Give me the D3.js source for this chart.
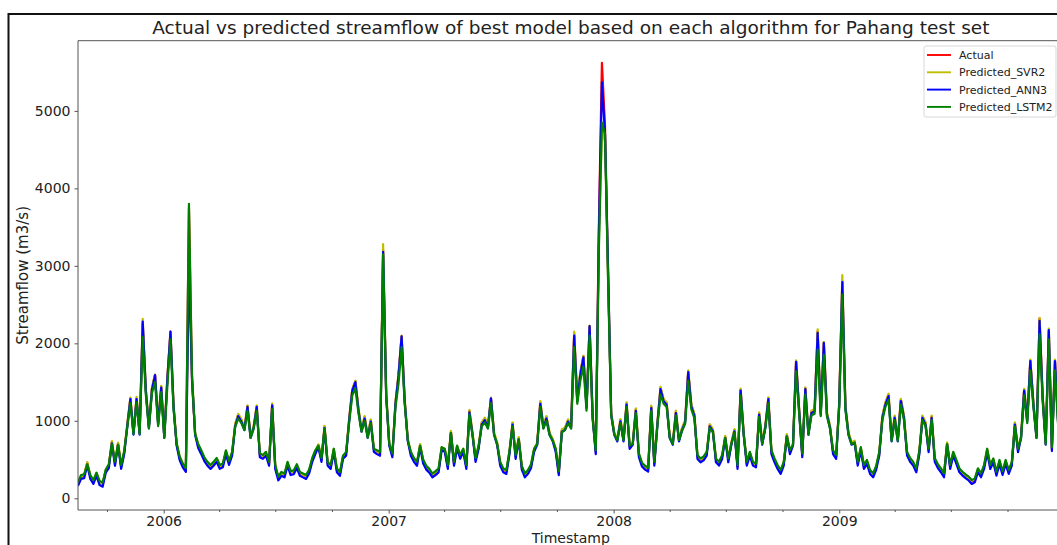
<!DOCTYPE html>
<html>
<head>
<meta charset="utf-8">
<script src="https://cdn.jsdelivr.net/npm/d3@7/dist/d3.min.js"></script>
<style>
  html, body { margin: 0; padding: 0; background: #fff; }
  svg { display: block; font-family: "DejaVu Sans", sans-serif; }
</style>
</head>
<body>
<svg id="chart" width="1057" height="545"></svg>
<script>
// ---- data (5-day samples, starting 2005-08-15) ----
const startDay = "2005-08-15";
const endDay = "2009-12-31";
const stepDays = 5;

const actual = [
190,280,290,460,280,215,320,200,180,360,
420,730,450,710,410,600,950,1290,840,1290,
840,2250,1400,925,1420,1590,970,1440,800,1550,
2150,1200,700,520,430,370,3750,1500,840,680,
600,510,450,410,450,500,410,430,600,460,
580,950,1080,1010,900,1190,800,925,1190,560,
540,580,450,1210,410,260,320,300,450,330,
340,420,320,300,280,350,500,600,690,500,
925,450,410,630,365,320,540,580,1030,1400,
1510,1150,880,1050,800,1010,630,600,580,3200,
1350,700,560,1230,1590,2090,1270,760,580,500,
450,690,480,400,360,300,330,365,650,630,
410,860,450,670,540,630,410,1130,840,500,
670,970,1030,925,1290,840,710,450,365,345,
600,970,540,780,400,300,345,420,630,710,
1240,925,1050,840,760,630,330,880,900,1010,
925,2130,1270,1617,1833,1185,2221,1056,600,3500,
5620,4800,2900,1100,840,754,1013,754,1229,668,
711,1150,560,440,400,375,1185,452,970,1423,
1272,1229,797,711,1121,754,900,1000,1638,1207,
1080,538,495,520,581,949,884,495,452,538,
797,495,711,884,409,1401,840,452,581,452,
430,1099,711,927,1294,600,495,409,345,452,
818,600,700,1768,1142,560,1423,840,1121,1142,
2156,1100,2006,1100,928,600,540,1230,2800,1187,
841,712,733,452,647,409,474,345,302,400,
582,1057,1230,1338,755,1057,755,1273,1057,582,
500,452,366,600,1057,971,625,1057,500,420,
366,302,712,409,582,474,366,323,290,260,
215,237,366,302,409,625,409,496,323,474,
330,474,345,452,971,625,798,1402,1014,1780,
1230,800,2320,1316,712,2170,640,1780,1000,800
];

const predSVR2 = [
195,285,295,465,285,220,325,205,185,365,
425,740,455,720,415,605,960,1300,850,1310,
850,2315,1410,935,1430,1600,980,1450,810,1560,
2140,1210,705,525,435,375,3060,1600,850,685,
605,515,455,415,455,505,415,435,605,465,
585,960,1090,1020,910,1200,810,935,1200,565,
545,585,455,1225,415,265,325,305,455,335,
345,425,325,305,285,355,505,605,695,505,
935,455,415,635,370,325,545,585,1040,1410,
1520,1160,890,1060,810,1020,635,605,585,3280,
1360,705,565,1240,1600,2100,1280,770,585,505,
455,700,485,405,365,305,335,370,655,635,
415,870,455,675,545,635,415,1140,850,505,
675,980,1040,935,1300,850,720,455,370,350,
605,980,545,790,405,305,350,425,635,720,
1255,935,1060,850,770,635,335,890,910,1020,
935,2150,1280,1630,1840,1195,2230,1066,605,3300,
4750,4600,2850,1110,850,764,1023,764,1239,673,
721,1160,565,445,405,380,1195,457,980,1440,
1282,1239,807,721,1131,764,910,1010,1650,1217,
1090,543,500,525,586,959,894,500,457,543,
807,500,721,894,414,1415,850,457,586,457,
435,1109,721,937,1304,605,500,414,350,457,
828,605,710,1780,1152,565,1433,850,1131,1152,
2180,1110,2020,1110,938,605,545,1240,2880,1197,
851,722,743,457,652,414,479,350,307,405,
587,1067,1240,1350,765,1067,765,1283,1067,587,
505,457,371,605,1067,981,630,1067,505,425,
371,307,722,414,587,479,371,328,295,265,
225,245,371,307,414,630,414,501,328,479,
335,479,350,457,981,630,808,1412,1024,1790,
1240,810,2330,1326,722,2190,645,1790,1010,810
];

const predANN3 = [
160,250,260,430,250,185,290,170,150,330,
390,710,420,690,380,570,930,1280,820,1280,
820,2280,1390,905,1400,1590,950,1430,780,1540,
2150,1180,680,490,400,340,3020,1550,820,650,
570,480,420,380,420,470,380,400,570,430,
550,930,1060,990,880,1180,780,905,1180,530,
510,550,420,1200,380,230,290,270,420,300,
310,390,290,270,250,320,470,570,660,470,
905,420,380,600,335,290,510,550,1010,1390,
1500,1130,860,1030,780,990,600,570,550,3180,
1330,680,530,1210,1580,2090,1250,740,550,470,
420,660,450,370,330,270,300,335,620,600,
380,840,420,640,510,600,380,1110,820,470,
640,950,1010,905,1290,820,690,420,335,315,
570,950,510,760,370,270,315,390,600,690,
1220,905,1030,820,740,600,300,860,880,990,
905,2100,1250,1600,1820,1165,2221,1036,570,3400,
5370,4700,2950,1080,820,734,993,734,1209,638,
691,1130,530,410,370,345,1165,422,950,1410,
1252,1209,777,691,1101,734,880,980,1630,1187,
1060,508,465,490,551,929,864,465,422,508,
777,465,691,864,379,1390,820,422,551,422,
400,1079,691,907,1280,570,465,379,315,422,
798,570,680,1760,1122,530,1410,820,1101,1122,
2135,1080,2006,1080,908,570,510,1210,2790,1167,
821,692,713,422,617,379,444,315,272,370,
552,1037,1210,1320,735,1037,735,1255,1037,552,
470,422,336,570,1037,951,595,1037,470,390,
336,272,692,379,552,444,336,293,260,230,
185,207,336,272,379,595,379,466,293,444,
300,444,315,422,951,595,778,1390,994,1770,
1210,780,2290,1296,692,2170,610,1770,980,780
];

const predLSTM2 = [
210,300,310,440,300,235,330,225,205,370,
440,700,470,690,430,610,920,1230,830,1240,
830,2085,1340,900,1360,1500,930,1370,780,1450,
2050,1150,710,540,450,390,3800,1550,830,700,
620,530,470,430,470,520,430,450,620,480,
600,920,1030,970,880,1130,780,900,1130,580,
560,600,470,1150,430,280,340,320,470,350,
360,440,340,320,300,370,520,620,680,520,
900,470,430,640,385,340,550,600,980,1330,
1420,1100,860,1000,780,970,640,620,600,3150,
1300,700,580,1170,1480,1950,1220,750,600,520,
470,680,500,420,380,320,350,385,660,640,
430,840,470,680,560,640,430,1080,820,520,
680,930,980,900,1230,820,700,470,385,365,
610,930,560,760,420,320,365,440,640,700,
1180,900,1000,820,750,640,350,850,880,970,
900,1950,1220,1520,1700,1130,2100,1010,620,3200,
4850,4700,2800,1070,830,750,970,750,1180,680,
700,1100,580,460,420,395,1130,470,930,1340,
1220,1180,780,700,1070,750,870,960,1520,1150,
1030,560,515,540,600,910,850,515,470,560,
780,515,700,850,430,1330,820,470,600,470,
450,1050,700,900,1230,620,515,430,365,470,
800,620,690,1640,1090,580,1340,820,1070,1090,
1920,1060,1850,1060,900,620,560,1180,2630,1140,
820,700,720,470,660,430,495,365,322,420,
600,1010,1180,1270,740,1010,740,1210,1010,600,
520,470,386,620,1010,930,640,1010,520,440,
386,322,700,430,600,495,386,343,310,280,
235,257,386,322,430,640,430,515,343,495,
350,495,365,470,930,640,780,1330,970,1650,
1180,780,2115,1260,700,2050,660,1650,960,780
];

const seriesNames = ["Actual", "Predicted_SVR2", "Predicted_ANN3", "Predicted_LSTM2"];
const seriesColors = ["#ff0000", "#bfbf00", "#0000ff", "#008000"];
const yTicks = [0, 1000, 2000, 3000, 4000, 5000];
const xTickYears = ["2006-01-01", "2007-01-01", "2008-01-01", "2009-01-01"];

const titleText = "Actual vs predicted streamflow of best model based on each algorithm for Pahang test set";
const xLabel = "Timestamp";
const yLabel = "Streamflow (m3/s)";

// ---- layout ----
const W = 1057, H = 545;
const M = { left: 78, top: 40.7, right: 1063.6, bottom: 510 };
const parse = d3.timeParse("%Y-%m-%d");
const t0 = parse(startDay), t1 = parse(endDay);
const dates = actual.map((_, i) => d3.timeDay.offset(t0, i * stepDays));

const x = d3.scaleTime().domain([t0, t1]).range([M.left, M.right]);
const y = d3.scaleLinear().domain([-151, 5906]).range([M.bottom, M.top]);

const svg = d3.select("#chart");
svg.append("rect").attr("width", W).attr("height", H).attr("fill", "#fff");

// outer figure border
svg.append("rect").attr("x", 8.5).attr("y", 14).attr("width", 1200).attr("height", 700)
  .attr("fill", "none").attr("stroke", "#111").attr("stroke-width", 2);

// clip
svg.append("clipPath").attr("id", "clip").append("rect")
  .attr("x", M.left).attr("y", M.top).attr("width", M.right - M.left).attr("height", M.bottom - M.top);

const allSeries = [actual, predSVR2, predANN3, predLSTM2];
const line = d3.line().x((d, i) => x(dates[i])).y(d => y(d));
const g = svg.append("g").attr("clip-path", "url(#clip)");
allSeries.forEach((s, k) => {
  g.append("path").datum(s).attr("d", line)
    .attr("fill", "none").attr("stroke", seriesColors[k]).attr("stroke-width", 2.2)
    .attr("stroke-linejoin", "round");
});

// spines
const spine = "#555";
svg.append("line").attr("x1", M.left).attr("x2", M.left).attr("y1", M.top).attr("y2", M.bottom).attr("stroke", spine);
svg.append("line").attr("x1", M.left).attr("x2", W).attr("y1", M.bottom).attr("y2", M.bottom).attr("stroke", spine);
svg.append("line").attr("x1", M.left).attr("x2", W).attr("y1", M.top).attr("y2", M.top).attr("stroke", spine);

// y axis
const yAxis = svg.append("g").attr("transform", `translate(${M.left},0)`)
  .call(d3.axisLeft(y).tickValues(yTicks).tickSize(3.5).tickPadding(4).tickFormat(d3.format("d")));
yAxis.select(".domain").remove();
yAxis.selectAll("line").attr("stroke", spine);
yAxis.selectAll("text").attr("font-size", 14).attr("fill", "#222").attr("font-family", "DejaVu Sans");

// x axis major
const xAxis = svg.append("g").attr("transform", `translate(0,${M.bottom})`)
  .call(d3.axisBottom(x).tickValues(xTickYears.map(parse)).tickSize(3.5).tickPadding(3).tickFormat(d3.timeFormat("%Y")));
xAxis.select(".domain").remove();
xAxis.selectAll("line").attr("stroke", spine);
xAxis.selectAll("text").attr("font-size", 14).attr("fill", "#222").attr("font-family", "DejaVu Sans");

// x axis minor (quarters)
const minor = d3.timeMonth.every(3).range(t0, t1).filter(d => d.getMonth() !== 0);
const xMinor = svg.append("g").attr("transform", `translate(0,${M.bottom})`)
  .call(d3.axisBottom(x).tickValues(minor).tickSize(2).tickFormat(""));
xMinor.select(".domain").remove();
xMinor.selectAll("line").attr("stroke", spine);

// labels
svg.append("text").attr("x", (M.left + M.right) / 2).attr("y", 34)
  .attr("text-anchor", "middle").attr("font-size", 18.5).attr("fill", "#222").text(titleText);
svg.append("text").attr("x", (M.left + M.right) / 2).attr("y", 543)
  .attr("text-anchor", "middle").attr("font-size", 14).attr("fill", "#222").text(xLabel);
svg.append("text").attr("transform", `translate(28,${(M.top + M.bottom) / 2}) rotate(-90)`)
  .attr("text-anchor", "middle").attr("font-size", 15).attr("fill", "#222").text(yLabel);

// legend
const lg = svg.append("g");
lg.append("rect").attr("x", 924).attr("y", 46).attr("width", 132).attr("height", 71).attr("rx", 2)
  .attr("fill", "#fff").attr("fill-opacity", 0.85).attr("stroke", "#d8d8d8");
seriesNames.forEach((n, k) => {
  const yy = 55 + k * 17.3;
  lg.append("line").attr("x1", 927).attr("x2", 951).attr("y1", yy).attr("y2", yy)
    .attr("stroke", seriesColors[k]).attr("stroke-width", 1.9);
  lg.append("text").attr("x", 959).attr("y", yy + 4).attr("font-size", 11).attr("fill", "#222").text(n);
});
</script>
</body>
</html>
